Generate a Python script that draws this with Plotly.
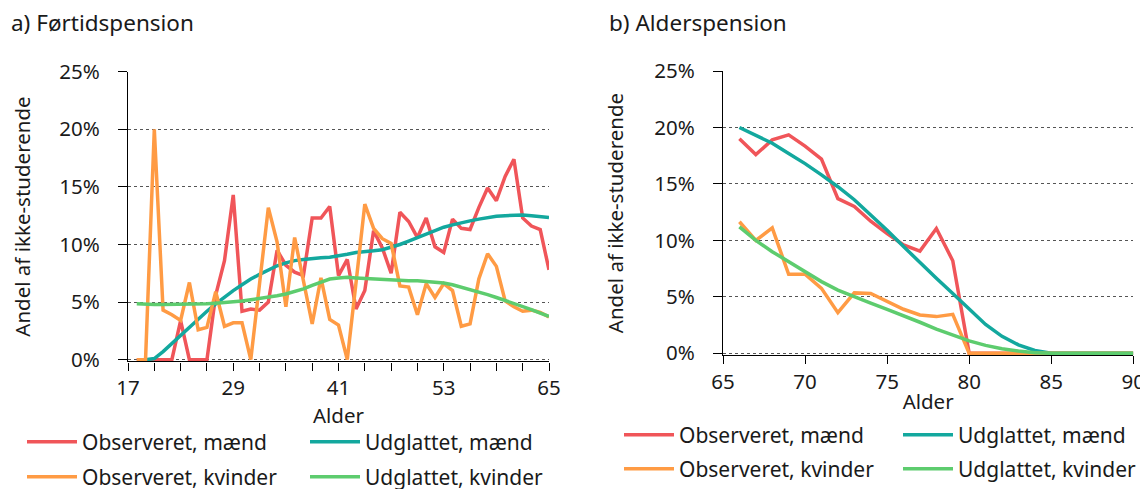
import plotly.graph_objects as go

# ---------------- data ----------------
# a) Førtidspension
ages_a = list(range(18, 66))
obs_maend_a = [0, 0, 0, 0, 0, 3.4, 0, 0, 0, 5.6, 8.6, 14.3, 4.2, 4.4, 4.3, 5.0,
               9.5, 8.2, 7.6, 7.3, 12.3, 12.3, 13.3, 7.3, 8.7, 4.4, 6.0, 11.2,
               9.7, 7.5, 12.8, 12.0, 10.6, 12.3, 9.8, 9.3, 12.2, 11.4, 11.3, 13.2,
               14.9, 13.8, 15.9, 17.4, 12.3, 11.6, 11.3, 7.8]
obs_kvinder_a = [0, 0, 20.0, 4.3, 3.9, 3.4, 6.7, 2.6, 2.8, 5.9, 2.9, 3.2, 3.2, 0,
                 6.6, 13.2, 10.2, 4.6, 10.6, 6.9, 3.1, 7.1, 3.5, 3.0, 0, 6.7, 13.5,
                 11.4, 10.5, 10.1, 6.4, 6.3, 3.9, 6.6, 5.4, 6.6, 6.0, 2.9, 3.1, 7.0,
                 9.2, 8.1, 5.1, 4.6, 4.2, 4.3, 4.1, 3.7]
udg_maend_a = [None, 0, 0.1, 0.7, 1.4, 2.2, 2.8, 3.5, 4.2, 4.85, 5.45, 6.0, 6.5,
               7.0, 7.4, 7.8, 8.15, 8.4, 8.6, 8.7, 8.8, 8.85, 8.9, 9.0, 9.15, 9.3,
               9.35, 9.45, 9.55, 9.75, 10.0, 10.3, 10.6, 10.95, 11.25, 11.5, 11.7,
               11.9, 12.05, 12.2, 12.35, 12.45, 12.5, 12.55, 12.55, 12.5, 12.45, 12.35]
udg_kvinder_a = [4.85, 4.8, 4.8, 4.78, 4.78, 4.78, 4.8, 4.82, 4.85, 4.9, 4.95, 5.0,
                 5.1, 5.2, 5.3, 5.4, 5.55, 5.7, 5.9, 6.15, 6.45, 6.75, 7.0, 7.1,
                 7.15, 7.1, 7.05, 7.0, 6.95, 6.9, 6.85, 6.85, 6.85, 6.8, 6.75, 6.65,
                 6.5, 6.3, 6.1, 5.9, 5.65, 5.4, 5.15, 4.9, 4.6, 4.35, 4.05, 3.75]

# b) Alderspension
ages_b = list(range(66, 91))
obs_maend_b = [19.0, 17.6, 18.9, 19.35, 18.35, 17.2, 13.7, 13.0, 11.7, 10.6, 9.6,
               9.05, 11.05, 8.2, 0, 0, 0, 0, 0, 0, 0, 0, 0, 0, 0]
obs_kvinder_b = [11.65, 10.0, 11.1, 7.0, 7.0, 5.75, 3.6, 5.35, 5.3, 4.6, 3.9, 3.4,
                 3.25, 3.45, 0, 0, 0, 0, 0, 0, 0, 0, 0, 0, 0]
udg_maend_b = [20.0, 19.3, 18.6, 17.7, 16.8, 15.8, 14.75, 13.6, 12.3, 10.9, 9.45,
               8.0, 6.65, 5.3, 3.9, 2.55, 1.5, 0.75, 0.25, 0, 0, 0, 0, 0, 0]
udg_kvinder_b = [11.2, 10.0, 9.0, 8.1, 7.2, 6.35, 5.6, 5.0, 4.45, 3.9, 3.35, 2.75,
                 2.15, 1.6, 1.1, 0.7, 0.4, 0.2, 0.05, 0, 0, 0, 0, 0, 0]

series_names = ["Observeret, mænd", "Udglattet, mænd",
                "Observeret, kvinder", "Udglattet, kvinder"]
colors = ["#F05559", "#13A89E", "#FF9B44", "#5DCC6E"]

y_ticks = [0, 5, 10, 15, 20, 25]
y_ticktext = [f"{v}%" for v in y_ticks]
x_ticks_a = [17, 29, 41, 53, 65]
x_ticks_b = [65, 70, 75, 80, 85, 90]

# ---------------- figure ----------------
# the page body has an 8px margin, so the figure is 8px smaller on each side
W, H = 1140, 481
FONT = "Noto Sans"
TXT = "#1a1a1a"

fig = go.Figure()

panel_a = [obs_maend_a, udg_maend_a, obs_kvinder_a, udg_kvinder_a]
panel_b = [obs_maend_b, udg_maend_b, obs_kvinder_b, udg_kvinder_b]

# legend slot positions (figure pixels): (legend left x, row center y)
leg_pos_a = [(14, 434), (297, 434), (14, 469), (297, 469)]
leg_pos_b = [(611, 427), (890, 427), (611, 461), (890, 461)]


def lg(i):
    return "legend" if i == 0 else f"legend{i+1}"


for i, (name, col, ys) in enumerate(zip(series_names, colors, panel_a)):
    fig.add_trace(go.Scatter(x=ages_a, y=ys, mode="lines", name=name,
                             line=dict(color=col, width=3.5),
                             xaxis="x", yaxis="y", legend=lg(i)))
for i, (name, col, ys) in enumerate(zip(series_names, colors, panel_b)):
    fig.add_trace(go.Scatter(x=ages_b, y=ys, mode="lines", name=name,
                             line=dict(color=col, width=3.5),
                             xaxis="x2", yaxis="y2", legend=lg(i + 4)))


def px_x(x):
    return x / W


def px_y(y):
    return (H - y) / H


legends = {}
for i, (lx, ly) in enumerate(leg_pos_a + leg_pos_b):
    legends[lg(i)] = dict(x=px_x(lx), y=px_y(ly), xanchor="left", yanchor="middle",
                          bgcolor="rgba(0,0,0,0)", borderwidth=0,
                          font=dict(family=FONT, size=21, color=TXT),
                          itemwidth=50, orientation="h")

axis_common = dict(showline=True, linecolor="#000", linewidth=1.3,
                   ticks="outside", tickcolor="#000", ticklen=8, tickwidth=1.3,
                   tickfont=dict(family=FONT, size=20.5, color=TXT),
                   zeroline=False, automargin=False)

yaxis_common = dict(axis_common, range=[-0.15, 25], tickmode="array",
                    tickvals=y_ticks, ticktext=y_ticktext,
                    showgrid=True, gridcolor="#555",
                    griddash="dot", gridwidth=1, ticklen=9,
                    ticklabelstandoff=14,
                    title=dict(text="Andel af ikke-studerende",
                               font=dict(family=FONT, size=20.5, color=TXT),
                               standoff=25))

fig.update_layout(
    width=W, height=H,
    margin=dict(l=0, r=0, t=0, b=0, autoexpand=False),
    paper_bgcolor="white", plot_bgcolor="white",
    font=dict(family=FONT, color=TXT),
    showlegend=True,
    xaxis=dict(axis_common, domain=[120 / W, 541 / W], range=[17, 65],
               tickvals=x_ticks_a, showgrid=False, anchor="y",
               minor=dict(dtick=3, tick0=17, ticks="outside", ticklen=8,
                          tickcolor="#000", tickwidth=1.3, showgrid=False),
               title=dict(text="Alder", font=dict(family=FONT, size=20.5, color=TXT),
                          standoff=0)),
    yaxis=dict(yaxis_common, domain=[px_y(353.4), px_y(63.7)], anchor="x"),
    xaxis2=dict(axis_common, domain=[715 / W, 1125.3 / W], range=[65, 90],
                tickvals=x_ticks_b, showgrid=False, anchor="y2",
                title=dict(text="Alder", font=dict(family=FONT, size=20.5, color=TXT),
                           standoff=0)),
    yaxis2=dict(yaxis_common, domain=[px_y(347.0), px_y(63.0)], anchor="x2"),
    annotations=[
        dict(text="a) Førtidspension", x=px_x(1), y=px_y(14), xref="paper",
             yref="paper", xanchor="left", yanchor="middle", showarrow=False,
             font=dict(family=FONT, size=22.5, color=TXT)),
        dict(text="b) Alderspension", x=px_x(599), y=px_y(14), xref="paper",
             yref="paper", xanchor="left", yanchor="middle", showarrow=False,
             font=dict(family=FONT, size=22.5, color=TXT)),
    ],
    **legends,
)

fig.write_html("out.html")
